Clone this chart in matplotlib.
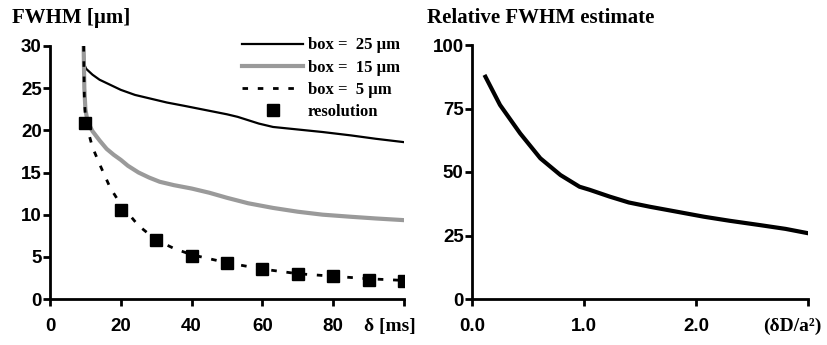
import numpy as np
import matplotlib
matplotlib.use('Agg')
import matplotlib.pyplot as plt
from matplotlib.font_manager import FontProperties

# left panel: FWHM vs delta [ms]
box25_x = [9.5, 9.7, 10.2, 12, 14, 17, 20, 24, 28, 33, 38, 44, 50, 53, 56, 59, 63, 70, 77, 85, 92, 100]
box25_y = [30, 27.8, 27.3, 26.6, 26.0, 25.4, 24.8, 24.2, 23.8, 23.3, 22.9, 22.4, 21.9, 21.6, 21.2, 20.8, 20.4, 20.1, 19.8, 19.4, 19.0, 18.6]

box15_x = [9.5, 9.7, 10.0, 10.5, 11, 12, 14, 16, 18, 20, 22, 25, 28, 31, 35, 40, 45, 50, 56, 63, 70, 77, 85, 92, 100]
box15_y = [30, 25, 22.5, 21.3, 20.7, 19.9, 18.8, 17.8, 17.1, 16.5, 15.8, 15.0, 14.4, 13.9, 13.5, 13.1, 12.6, 12.0, 11.35, 10.8, 10.35, 10.0, 9.75, 9.55, 9.35]

box5_x = [9.5, 9.7, 10.0, 10.5, 12, 14, 17, 20, 25, 30, 35, 40, 50, 60, 70, 80, 90, 100]
box5_y = [30, 24, 21.5, 20.3, 18.0, 16.0, 13.2, 11.2, 8.7, 7.0, 6.0, 5.25, 4.3, 3.55, 3.0, 2.7, 2.4, 2.2]

res_x = [10, 20, 30, 40, 50, 60, 70, 80, 90, 100]
res_y = [20.9, 10.5, 7.0, 5.1, 4.3, 3.55, 3.0, 2.75, 2.3, 2.1]

# right panel: relative FWHM estimate vs dD/a^2
rel_x = [0.12, 0.25, 0.43, 0.61, 0.79, 0.96, 1.05, 1.23, 1.40, 1.59, 1.80, 2.07, 2.30, 2.57, 2.80, 3.0]
rel_y = [87.5, 76.4, 65.2, 55.4, 48.8, 44.2, 43.0, 40.3, 38.0, 36.3, 34.6, 32.4, 30.8, 29.1, 27.6, 25.9]

tick_font = FontProperties(family='Liberation Sans', weight='bold', size=13.5)
serif_bold = {'family': 'Liberation Serif', 'weight': 'bold'}

fig = plt.figure(figsize=(8.27, 3.45), dpi=100)
ax1 = fig.add_axes([50 / 827, 1 - 299 / 345, 354 / 827, 253 / 345])
ax2 = fig.add_axes([472 / 827, 1 - 299 / 345, 336 / 827, 254 / 345])

ax1.plot(box25_x, box25_y, color='black', lw=1.6, label='box =  25 \u00b5m')
ax1.plot(box15_x, box15_y, color='#9a9a9a', lw=3.0, label='box =  15 \u00b5m')
ax1.plot(box5_x, box5_y, color='black', lw=2.0, dashes=(2, 3.5), label='box =  5 \u00b5m')
ax1.plot(res_x, res_y, ls='none', marker='s', ms=8, color='black', label='resolution')

ax1.set_xlim(0, 100)
ax1.set_ylim(0, 30)
ax1.set_xticks([0, 20, 40, 60, 80, 100])
ax1.set_xticklabels(['0', '20', '40', '60', '80', ''])
ax1.set_yticks([0, 5, 10, 15, 20, 25, 30])

ax2.plot(rel_x, rel_y, color='black', lw=3.0)
ax2.set_xlim(0, 3)
ax2.set_ylim(0, 100)
ax2.set_xticks([0, 1, 2, 3])
ax2.set_xticklabels(['0.0', '1.0', '2.0', ''])
ax2.set_yticks([0, 25, 50, 75, 100])

for ax in (ax1, ax2):
    for s in ('top', 'right'):
        ax.spines[s].set_visible(False)
    for s in ('left', 'bottom'):
        ax.spines[s].set_linewidth(2)
    ax.tick_params(direction='out', length=5, width=2)
    ax.tick_params(axis='x', pad=9)
    ax.tick_params(axis='y', pad=1)
    for lab in ax.get_xticklabels() + ax.get_yticklabels():
        lab.set_fontproperties(tick_font)

leg = ax1.legend(loc='upper right', bbox_to_anchor=(1.03, 1.093), frameon=False,
                 handlelength=3.7, handletextpad=0.25, labelspacing=0.37,
                 prop={'family': 'Liberation Serif', 'weight': 'bold', 'size': 12})

fig.text(12 / 827, 1 - 18 / 345, 'FWHM [\u00b5m]', va='center', ha='left', size=15, **serif_bold)
fig.text(427 / 827, 1 - 18 / 345, 'Relative FWHM estimate', va='center', ha='left', size=15, **serif_bold)
fig.text(364 / 827, 1 - 326 / 345, '\u03b4 [ms]', va='center', ha='left', size=14, **serif_bold)
fig.text(822 / 827, 1 - 326 / 345, '(\u03b4D/a\u00b2)', va='center', ha='right', size=14, **serif_bold)

fig.savefig('out.png', dpi=100, facecolor='white')
